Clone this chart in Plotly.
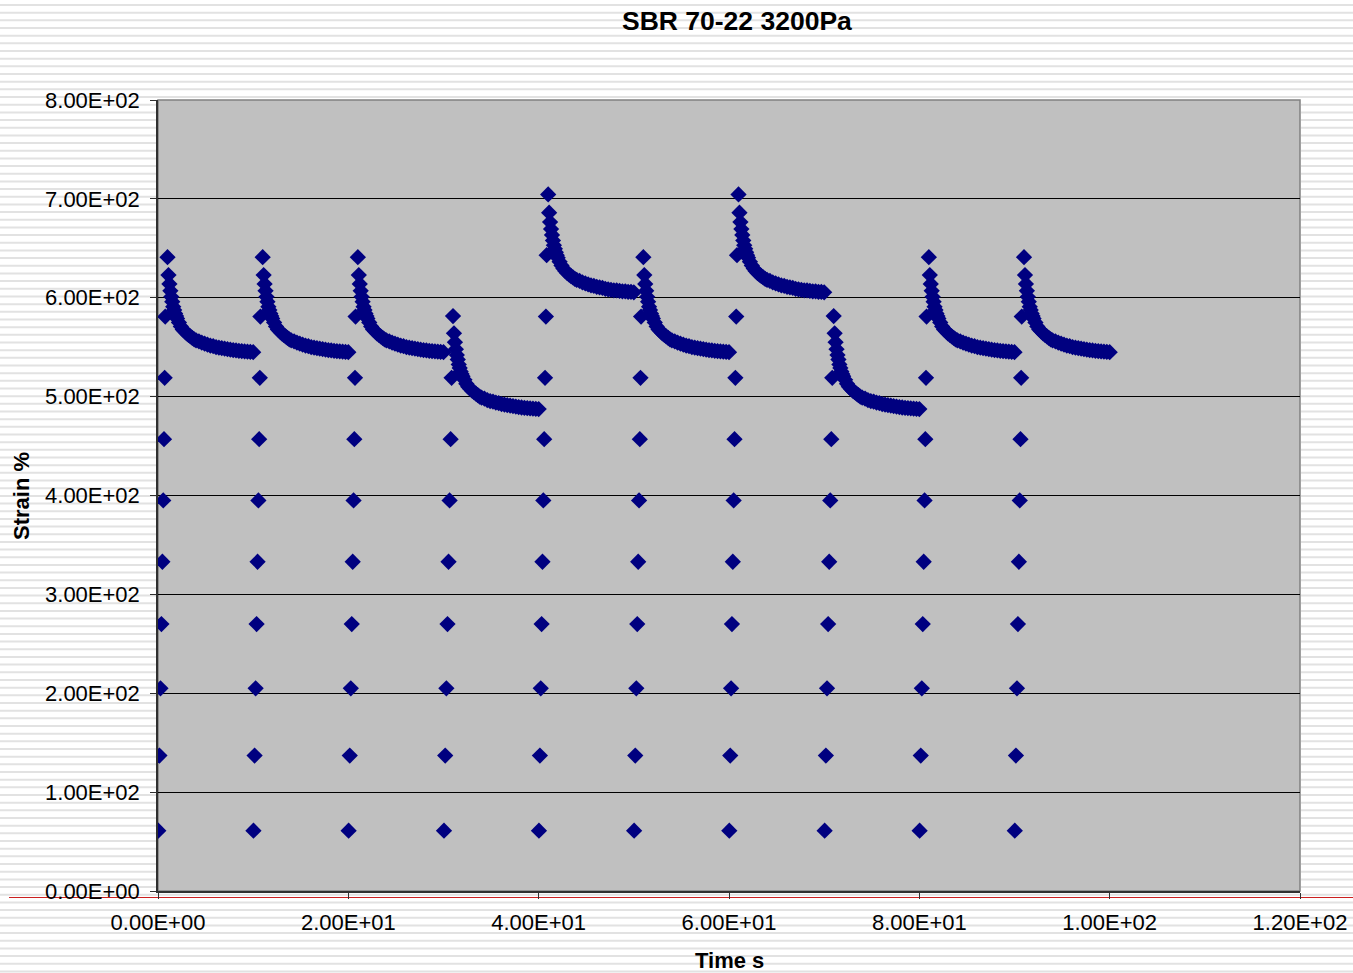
import plotly.graph_objects as go

# ---------------- data ----------------
cycle_start = [0, 10, 20, 30, 40, 50, 60, 70, 80, 90]
cycle_type = ["A", "A", "A", "B", "C", "A", "C", "B", "A", "A"]

ramp_strain = [61, 137, 205, 270, 333, 395, 457, 519, 581, 643]
ramp_time = {
    "A": [0.03, 0.15, 0.26, 0.36, 0.46, 0.55, 0.63, 0.70, 0.76],
    "B": [0.05, 0.18, 0.30, 0.42, 0.53, 0.64, 0.75, 0.85],
    "C": [0.03, 0.13, 0.22, 0.31, 0.40, 0.49, 0.58, 0.67, 0.76, 0.84],
}

decay_time = [1.0, 1.1, 1.2, 1.3, 1.4, 1.5, 1.6, 1.7, 1.8, 1.9, 2.0,
              2.2, 2.4, 2.6, 2.8, 3.0, 3.2, 3.4, 3.6, 3.8, 4.0,
              4.3, 4.6, 4.9, 5.2, 5.5, 5.8, 6.1, 6.4, 6.7, 7.0,
              7.3, 7.6, 7.9, 8.2, 8.5, 8.8, 9.1, 9.4, 9.7, 10.0]
decay_strain = {
    "A": [641, 623, 614, 607, 601, 596, 591, 587.5, 584, 581.5, 579,
          575, 571, 568, 566, 564, 562.5, 561, 559.5, 558, 557,
          556, 554.5, 553.5, 552.5, 551.5, 551, 550, 549.5, 549, 548.5,
          548, 547.5, 547, 546.7, 546.3, 546, 545.7, 545.4, 545.2, 545],
    "B": [581.5, 564, 555, 548, 542, 537.5, 532.5, 529, 525.5, 523, 520.5,
          517, 513, 510, 508, 506, 504.5, 503, 501.5, 500, 499,
          498, 496.5, 495.5, 495, 494, 493.5, 492.5, 492, 491.5, 491,
          490.5, 490, 489.5, 489, 488.7, 488.4, 488.1, 487.8, 487.6, 487.4],
    "C": [704.5, 686, 676.5, 669.5, 663.5, 658, 653, 649.5, 646, 643, 640.5,
          636.5, 632.5, 629.5, 627, 625, 623.5, 622, 620.5, 619, 618,
          617, 615.5, 614.5, 613.5, 612.5, 612, 611, 610.5, 610, 609,
          608.5, 608, 607.5, 607.5, 607, 606.5, 606.5, 606, 606, 605.5],
}

x_tickvals = [0, 20, 40, 60, 80, 100, 120]
x_ticktext = ["0.00E+00", "2.00E+01", "4.00E+01", "6.00E+01", "8.00E+01", "1.00E+02", "1.20E+02"]
y_tickvals = [0, 100, 200, 300, 400, 500, 600, 700, 800]
y_ticktext = ["0.00E+00", "1.00E+02", "2.00E+02", "3.00E+02", "4.00E+02",
              "5.00E+02", "6.00E+02", "7.00E+02", "8.00E+02"]

# ---------------- build series ----------------
xs, ys = [], []
for start, typ in zip(cycle_start, cycle_type):
    rt = ramp_time[typ]
    for t, s in zip(rt, ramp_strain[:len(rt)]):
        xs.append(start + t)
        ys.append(s)
    for t, s in zip(decay_time, decay_strain[typ]):
        xs.append(start + t)
        ys.append(s)

W, H = 1353, 973
L, R, T, B = 158, 1300, 100, 891


def px(xp):
    return (xp - L) / (R - L)


def py(yp):
    return (B - yp) / (B - T)


fig = go.Figure()
fig.add_trace(go.Scatter(
    x=xs, y=ys, mode="markers",
    marker=dict(symbol="diamond", size=12.5, color="#000080", line=dict(width=0)),
    hoverinfo="x+y", showlegend=False,
))

# striped background outside the plot area (decoration)
path = []
yy = 5.0
while yy < H:
    if yy < T or yy > B:
        path.append(f"M{px(0)},{py(yy)} L{px(W)},{py(yy)}")
    else:
        path.append(f"M{px(0)},{py(yy)} L{px(L - 1)},{py(yy)}")
        path.append(f"M{px(R + 1)},{py(yy)} L{px(W)},{py(yy)}")
    yy += 7.67
shapes = [
    dict(type="path", xref="paper", yref="paper", path=" ".join(path),
         line=dict(color="#E2E2E2", width=2), layer="below"),
    dict(type="line", xref="paper", yref="paper", x0=px(9), x1=px(W), y0=py(897.5), y1=py(897.5),
         line=dict(color="#CC2020", width=1), layer="below"),
    dict(type="rect", xref="paper", yref="paper", x0=0, x1=1, y0=0, y1=1,
         line=dict(color="#808080", width=1.5), layer="below"),
]

font_family = "Liberation Sans, Arial, sans-serif"
fig.update_layout(
    width=W, height=H, autosize=False,
    margin=dict(l=L, r=W - R, t=T, b=H - B, pad=0),
    paper_bgcolor="white", plot_bgcolor="#C0C0C0",
    font=dict(family=font_family, size=22, color="black"),
    shapes=shapes,
    annotations=[
        dict(text="<b>SBR 70-22 3200Pa</b>", xref="paper", yref="paper",
             x=px(736.5), y=py(21), xanchor="center", yanchor="middle",
             showarrow=False, font=dict(size=26.5)),
        dict(text="<b>Time s</b>", xref="paper", yref="paper",
             x=px(729.5), y=py(961), xanchor="center", yanchor="middle",
             showarrow=False, font=dict(size=22)),
        dict(text="<b>Strain %</b>", xref="paper", yref="paper",
             x=px(21), y=py(496), xanchor="center", yanchor="middle",
             textangle=-90, showarrow=False, font=dict(size=22)),
    ],
)
fig.update_xaxes(
    range=[0, 120], tickvals=x_tickvals, ticktext=x_ticktext, automargin=False,
    showgrid=False, zeroline=False, showline=True, linecolor="#303030", linewidth=1.5,
    ticks="outside", ticklen=6, tickcolor="#303030", tickwidth=1,
    layer="below traces", ticklabelstandoff=5,
)
fig.update_yaxes(
    range=[0, 800], tickvals=y_tickvals, ticktext=y_ticktext, automargin=False,
    showgrid=True, gridcolor="black", gridwidth=1, zeroline=False,
    showline=True, linecolor="#303030", linewidth=1.5,
    ticks="outside", ticklen=6, tickcolor="#303030", tickwidth=1,
    layer="below traces", ticklabelstandoff=6,
)

fig.write_html("out.html")
